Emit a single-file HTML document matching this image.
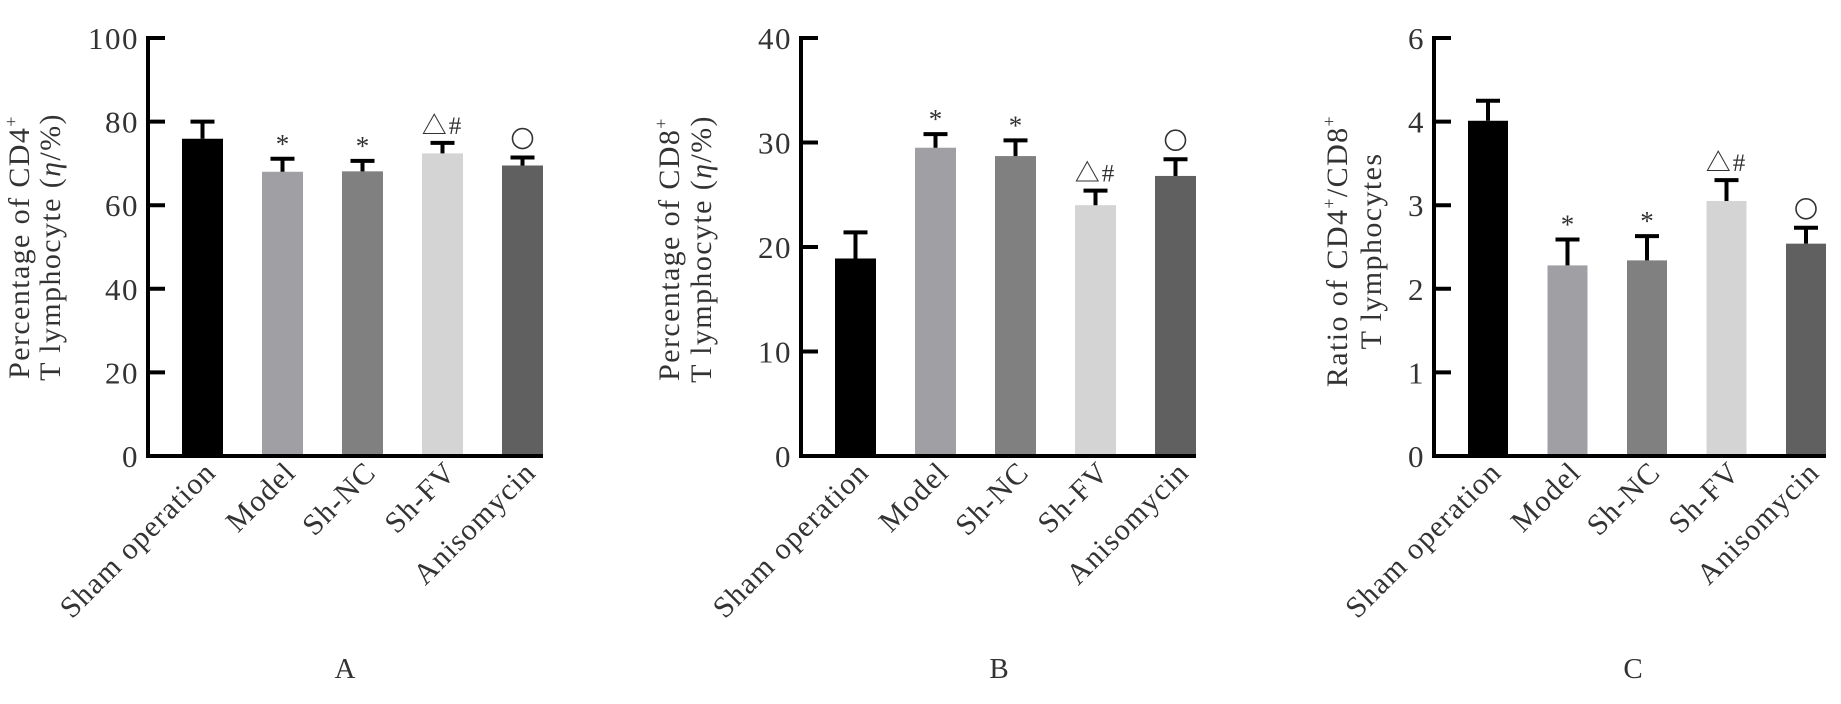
<!DOCTYPE html>
<html><head><meta charset="utf-8"><style>
html,body{margin:0;padding:0;background:#fff;}
svg{display:block;font-family:"Liberation Serif","Noto Serif CJK SC",serif;}
</style></head><body>
<svg id="fig" width="1841" height="704" viewBox="0 0 1841 704"></svg>
<script>
const categories = ["Sham operation","Model","Sh-NC","Sh-FV","Anisomycin"];
const colors = ["#000000","#a0a0a4","#808080","#d4d4d4","#606060"];
const marks = ["","*","*","\u25B3#","circle"];
const valuesA = [75.9,68.0,68.1,72.4,69.5];
const errA = [80.0,71.1,70.6,74.9,71.4];
const ticksA = [0,20,40,60,80,100];
const tickLabelsA = ["0","20","40","60","80","100"];
const valuesB = [18.9,29.5,28.7,24.0,26.8];
const errB = [21.4,30.8,30.2,25.4,28.4];
const ticksB = [0,10,20,30,40];
const tickLabelsB = ["0","10","20","30","40"];
const valuesC = [4.01,2.28,2.34,3.05,2.54];
const errC = [4.25,2.59,2.63,3.30,2.73];
const ticksC = [0,1,2,3,4,5];
const tickLabelsC = ["0","1","2","3","4","6"];

const NS="http://www.w3.org/2000/svg";
const svg=document.getElementById('fig');
function mk(tag,attrs,parent){const e=document.createElementNS(NS,tag);for(const k in attrs)e.setAttribute(k,attrs[k]);(parent||svg).appendChild(e);return e;}

function panel(p){
  const g=mk('g',{});
  
  
  const y0=456, yTop=38;
  const ymax=p.ticks[p.ticks.length-1];
  const Y=v=>y0-(v/ymax)*(y0-yTop);
  const X=i=>p.x0+34+i*p.step;
  p.values.forEach((v,i)=>{
    const b=mk('rect',{x:X(i),y:Y(v),width:p.bw,height:y0-Y(v),fill:colors[i]},g);
    
    
    const cx=X(i)+p.bw/2;
    const e=mk('path',{d:`M${cx},${Y(v)}V${Y(p.err[i])}M${cx-12},${Y(p.err[i])}H${cx+12}`,stroke:'#000','stroke-width':4,fill:'none'},g);
    
    
    if(marks[i]==='circle'){
      const c=mk('circle',{cx:cx,cy:Y(p.err[i])-19,r:10,fill:'none',stroke:'#333','stroke-width':1.6},g);
      
      
    } else if(marks[i]){
      const m=mk('text',{x:cx,y:Y(p.err[i])-(marks[i]==='*'?6:9),'text-anchor':'middle','font-size':marks[i]==='*'?27:25,'letter-spacing':marks[i]==='*'?0:2,fill:'#333'},g);
      m.textContent=marks[i];
      
      
    }
    const ax0=cx+15, ay0=474;
    const t=mk('text',{x:ax0,y:ay0,'text-anchor':'end','font-size':30,'letter-spacing':1.2,fill:'#333',transform:`rotate(-45 ${ax0} ${ay0})`},g);
    t.textContent=categories[i];
    
    
  });
  const ax=mk('path',{d:`M${p.x0},${yTop-2}V${y0}H${p.x0+34+4*p.step+p.bw}`,stroke:'#000','stroke-width':4,fill:'none'},g);
  
  
  p.ticks.forEach((tv,j)=>{
    const tk=mk('line',{x1:p.x0,x2:p.x0+17,y1:Y(tv),y2:Y(tv),stroke:'#000','stroke-width':4},g);
    
    
    const tl=mk('text',{x:p.x0-9,y:Y(tv)+11,'text-anchor':'end','font-size':31,'letter-spacing':1.5,fill:'#333'},g);
    tl.textContent=p.tickLabels[j];
    
    
  });
  p.title.forEach((line,k)=>{
    const tx=p.tx[k], ty=p.ty;
    const t=mk('text',{x:tx,y:ty,'text-anchor':'middle','font-size':30,'letter-spacing':1.4,fill:'#333',transform:`rotate(-90 ${tx} ${ty})`},g);
    t.innerHTML=line;
    
    
  });
  const L=mk('text',{x:p.lx,y:678,'text-anchor':'middle','font-size':29,fill:'#333'},g);
  L.textContent=p.letter;
  
  
}
panel({name:'panel-a',x0:148,step:80,bw:41,values:valuesA,err:errA,ticks:ticksA,tickLabels:tickLabelsA,
  title:['Percentage of CD4<tspan font-size="18" dy="-12">+</tspan>','T lymphocyte (<tspan font-style="italic">η</tspan>/%)'],tx:[29,60],ty:247,letter:'A',lx:345});
panel({name:'panel-b',x0:801,step:80,bw:41,values:valuesB,err:errB,ticks:ticksB,tickLabels:tickLabelsB,
  title:['Percentage of CD8<tspan font-size="18" dy="-12">+</tspan>','T lymphocyte (<tspan font-style="italic">η</tspan>/%)'],tx:[679,711],ty:249,letter:'B',lx:999});
panel({name:'panel-c',x0:1434,step:79.5,bw:40,values:valuesC,err:errC,ticks:ticksC,tickLabels:tickLabelsC,
  title:['Ratio of  CD4<tspan font-size="18" dy="-12">+</tspan><tspan dy="12">/CD8</tspan><tspan font-size="18" dy="-12">+</tspan>','T lymphocytes'],tx:[1347,1381],ty:251,letter:'C',lx:1633});
</script>
</body></html>
